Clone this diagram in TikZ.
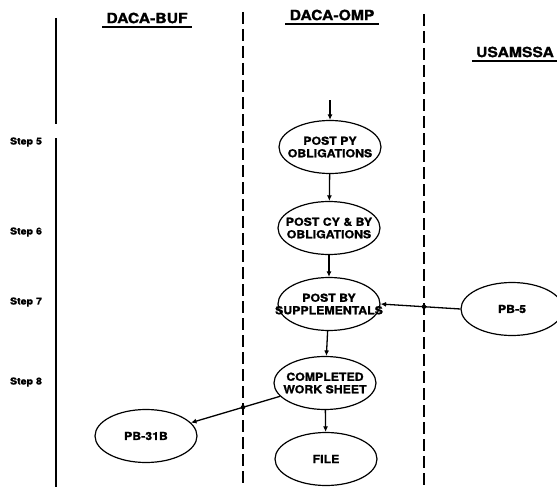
\documentclass[tikz,border=0pt]{standalone}
\usepackage{fontspec}
\usepackage{tikz}
\usetikzlibrary{arrows.meta}
\usetikzlibrary{shapes.geometric}
\usetikzlibrary{intersections}
\newfontfamily\formfont[FakeStretch=1.12, FakeBold=1.2]{TeX Gyre Heros}
\tikzset{form/.style = {draw, ellipse, line width=1.2pt, inner xsep=-20pt, inner ysep=1pt,
    minimum width=102pt, minimum height=53pt, align=center,
    font=\formfont\bfseries\fontsize{11}{12.5}\selectfont}}
\tikzset{lane/.style = {line width=1.6pt}}
\tikzset{split/.style = {line width=1.6pt, dash pattern=on 12pt off 5pt}}
\tikzset{flow/.style = {line width=1.3pt, -{Latex[length=5.5pt,width=5pt]}}}
\tikzset{head/.style = {font=\formfont\bfseries\fontsize{14}{16}\selectfont, inner sep=4pt}}
\tikzset{stage/.style = {font=\formfont\bfseries\fontsize{9.5}{11}\selectfont}}
\tikzset{joint/.style = {fill, circle, inner sep = 0, minimum size = 4.5pt}}

\begin{document}
\begin{tikzpicture}[x=1pt,y=-1pt]
    \useasboundingbox (0,0) rectangle (557,487);
    \draw [lane] (56,18) -- (56,124);
    \draw [lane] (56,138) -- (56,487);
    \draw [split, name path=bufomp] (243,12) -- (243,487);
    \draw [split, name path=ompmsa] (424,14) -- (424,487);
    \node [head] (buf) at (147,18) {DACA-BUF};
    \node [head] (omp) at (332,15) {DACA-OMP};
    \node [head] (msa) at (515,52) {USAMSSA};
    \foreach \t in {buf,omp,msa}
        \draw [line width=2pt] (\t.south west) -- (\t.south east);
    \foreach \n/\y in {5/142,6/232,7/302,8/382}
        \node [stage] (step\n) at (26,\y) {Step \n};
    \node [form] (py) at (330,147) {POST PY\\OBLIGATIONS};
    \node [form] (cy) at (329,228) {POST CY \& BY\\OBLIGATIONS};
    \node [form] (sup) at (329,304) {POST BY\\SUPPLEMENTALS};
    \node [form] (cws) at (325,383) {COMPLETED\\WORK SHEET};
    \node [form] (file) at (326,459) {FILE};
    \node [form] (pb5) at (512,309) {PB-5};
    \node [form] (pb31) at (146,436) {PB-31B};
    \coordinate (in) at (330,100);
    \draw [flow] (in) -- (py);
    \draw [flow] (py) -- (cy);
    \draw [flow] (cy) -- (sup);
    \draw [flow] (sup) -- (cws);
    \draw [flow] (cws) -- (file);
    \draw [flow, name path=pbline] (pb5.west) -- (sup.east);
    \draw [flow, name path=wsline] (cws) -- (pb31);
    \path [name intersections={of=pbline and ompmsa, by=x1}];
    \path [name intersections={of=wsline and bufomp, by=x2}];
    \node [joint] (dot1) at (x1) {};
    \node [joint] (dot2) at (x2) {};
\end{tikzpicture}
\end{document}
